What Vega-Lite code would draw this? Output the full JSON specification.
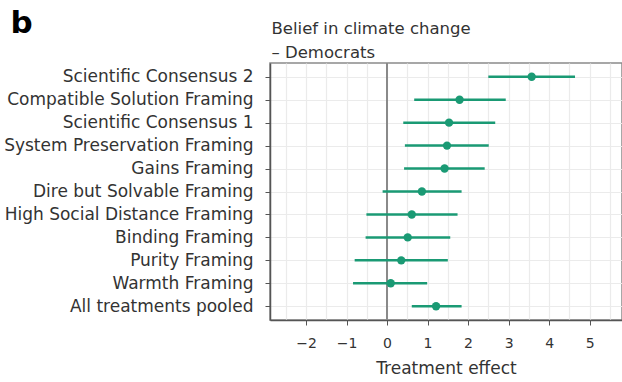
{
  "$schema": "https://vega.github.io/schema/vega-lite/v6.json",
  "width": 352,
  "height": 257,
  "autosize": {"type": "none"},
  "padding": {"left": 270, "top": 63, "right": 0, "bottom": 62},
  "background": "white",
  "config": {
    "view": {"stroke": "#8a8a8a", "strokeWidth": 1.5},
    "font": "DejaVu Sans"
  },
  "data": {
    "values": [
      {"label": "Scientific Consensus 2", "est": 3.57, "lo": 2.50, "hi": 4.64},
      {"label": "Compatible Solution Framing", "est": 1.79, "lo": 0.67, "hi": 2.93},
      {"label": "Scientific Consensus 1", "est": 1.53, "lo": 0.40, "hi": 2.67},
      {"label": "System Preservation Framing", "est": 1.48, "lo": 0.44, "hi": 2.51},
      {"label": "Gains Framing", "est": 1.42, "lo": 0.42, "hi": 2.41},
      {"label": "Dire but Solvable Framing", "est": 0.86, "lo": -0.11, "hi": 1.84},
      {"label": "High Social Distance Framing", "est": 0.61, "lo": -0.51, "hi": 1.74},
      {"label": "Binding Framing", "est": 0.51, "lo": -0.53, "hi": 1.56},
      {"label": "Purity Framing", "est": 0.35, "lo": -0.80, "hi": 1.50},
      {"label": "Warmth Framing", "est": 0.09, "lo": -0.84, "hi": 0.99},
      {"label": "All treatments pooled", "est": 1.21, "lo": 0.61, "hi": 1.84}
    ]
  },
  "encoding": {
    "y": {
      "field": "label",
      "type": "ordinal",
      "sort": null,
      "scale": {"type": "point", "padding": 0.6},
      "axis": {
        "title": ["Belief in climate change", "\u2007– Democrats"],
        "titleAngle": 0,
        "titleX": 1,
        "titleY": -30,
        "titleAlign": "left",
        "titleBaseline": "alphabetic",
        "titleFontSize": 16.5,
        "titleFontWeight": "normal",
        "titleColor": "#333",
        "titleLineHeight": 24,
        "labelFontSize": 17,
        "labelLimit": 400,
        "labelColor": "#333",
        "labelPadding": 12,
        "tickSize": 5,
        "tickColor": "#555",
        "domainColor": "#555",
        "domainWidth": 1.5,
        "grid": true,
        "gridColor": "#ebebeb",
        "gridWidth": 1.2
      }
    }
  },
  "layer": [
    {
      "mark": {"type": "rule", "color": "#8a8a8a", "strokeWidth": 1.5},
      "encoding": {
        "x": {
          "datum": 0,
          "type": "quantitative",
          "axis": {
            "orient": "top",
            "title": "b",
            "titleAngle": 0,
            "titleX": -260,
            "titleY": -31,
            "titleAlign": "left",
            "titleBaseline": "alphabetic",
            "titleFontSize": 31,
            "titleFontWeight": "bold",
            "titleColor": "#000",
            "labels": false,
            "ticks": false,
            "domain": false,
            "grid": false
          }
        },
        "y": {"value": 0},
        "y2": {"value": 257}
      }
    },
    {
      "mark": {"type": "rule", "color": "#1a9a74", "strokeWidth": 2.5},
      "encoding": {
        "x": {
          "field": "lo",
          "type": "quantitative",
          "scale": {"domain": [-2.89, 5.8], "nice": false, "zero": false},
          "axis": {
            "orient": "bottom",
            "title": "Treatment effect",
            "titleFontSize": 17,
            "titleFontWeight": "normal",
            "titleColor": "#333",
            "titlePadding": 10,
            "values": [-2.5, -2, -1.5, -1, -0.5, 0, 0.5, 1, 1.5, 2, 2.5, 3, 3.5, 4, 4.5, 5, 5.5],
            "labelExpr": "datum.value % 1 === 0 ? format(datum.value, 'd') : ''",
            "labelOverlap": false,
            "tickOpacity": {"expr": "datum.value % 1 === 0 ? 1 : 0"},
            "labelFontSize": 14,
            "labelColor": "#333",
            "labelPadding": 11,
            "tickSize": 5,
            "tickColor": "#555",
            "domainColor": "#555",
            "domainWidth": 1.5,
            "grid": true,
            "gridColor": "#ebebeb",
            "gridWidth": 1.2
          }
        },
        "x2": {"field": "hi"}
      }
    },
    {
      "mark": {"type": "circle", "color": "#1a9a74", "opacity": 1, "size": 70},
      "encoding": {
        "x": {
          "field": "est",
          "type": "quantitative",
          "axis": {
            "orient": "bottom",
            "title": null,
            "labels": false,
            "ticks": false,
            "domain": false,
            "grid": false
          }
        }
      }
    }
  ]
}
